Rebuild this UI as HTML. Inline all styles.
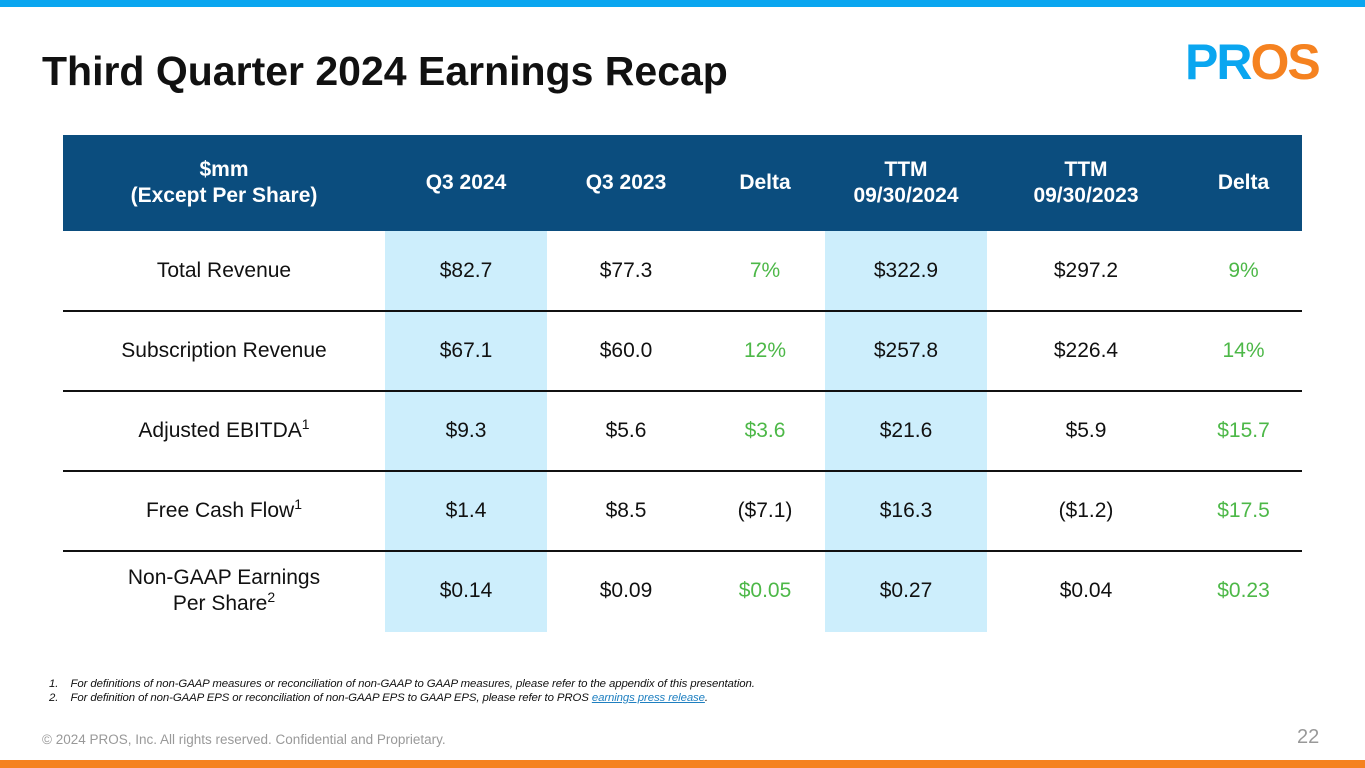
<!DOCTYPE html>
<html><head><meta charset="utf-8"><style>
*{margin:0;padding:0;box-sizing:border-box}
body{width:1365px;height:768px;position:relative;background:#fff;font-family:"Liberation Sans",sans-serif;overflow:hidden}
.abs{position:absolute}
.cell{position:absolute;display:flex;align-items:center;justify-content:center;text-align:center;font-size:21px;color:#111;line-height:26px}
.hd{color:#fff;font-weight:bold;font-size:21px}
.g{color:#4db848}
.line{position:absolute;left:63px;width:1239px;height:2px;background:#111}
sup{font-size:14px;vertical-align:8px;line-height:0}
</style></head><body>
<div class="abs" style="left:0;top:0;width:1365px;height:7px;background:#0aa6f0"></div>
<div class="abs" style="left:0;top:760px;width:1365px;height:8px;background:#f58220"></div>
<div class="abs" style="left:42px;top:48px;font-size:41px;font-weight:bold;color:#111;letter-spacing:0px">Third Quarter 2024 Earnings Recap</div>
<div class="abs" style="left:1185px;top:36px;font-size:50px;font-weight:900;letter-spacing:-2px;line-height:52px"><span style="color:#0aa6f0">PR</span><span style="color:#f58220">OS</span></div>
<div class="abs" style="left:63px;top:135px;width:1239px;height:96px;background:#0b4d7e"></div>
<div class="abs" style="left:385px;top:231px;width:162px;height:401px;background:#cdeefc"></div>
<div class="abs" style="left:825px;top:231px;width:162px;height:401px;background:#cdeefc"></div>
<div class="line" style="top:310px"></div>
<div class="line" style="top:390px"></div>
<div class="line" style="top:470px"></div>
<div class="line" style="top:550px"></div>
<div id="tbl"></div>
<div class="abs" style="left:49px;top:677px;font-size:11.4px;font-style:italic;color:#111;line-height:14px;letter-spacing:-0.1px">
<div>1.&nbsp;&nbsp;&nbsp;&nbsp;For definitions of non-GAAP measures or reconciliation of non-GAAP to GAAP measures, please refer to the appendix of this presentation.</div>
<div>2.&nbsp;&nbsp;&nbsp;&nbsp;For definition of non-GAAP EPS or reconciliation of non-GAAP EPS to GAAP EPS, please refer to PROS <span style="color:#1e7fc0;text-decoration:underline">earnings press release</span>.</div></div>
<div class="abs" style="left:42px;top:732px;font-size:13.5px;color:#999">© 2024 PROS, Inc. All rights reserved. Confidential and Proprietary.</div>
<div class="abs" style="left:1297px;top:726px;font-size:20px;color:#999">22</div>
<script>
const colX=[63,385,547,705,825,987,1185,1302];
const headers=["$mm<br>(Except Per Share)","Q3 2024","Q3 2023","Delta","TTM<br>09/30/2024","TTM<br>09/30/2023","Delta"];
const labels=["Total Revenue","Subscription Revenue","Adjusted EBITDA<sup>1</sup>","Free Cash Flow<sup>1</sup>","Non-GAAP Earnings<br>Per Share<sup>2</sup>"];
const rows=[["$82.7","$77.3","7%","$322.9","$297.2","9%"],["$67.1","$60.0","12%","$257.8","$226.4","14%"],["$9.3","$5.6","$3.6","$21.6","$5.9","$15.7"],["$1.4","$8.5","($7.1)","$16.3","($1.2)","$17.5"],["$0.14","$0.09","$0.05","$0.27","$0.04","$0.23"]];
const tbl=document.getElementById('tbl');
function mk(x,y,w,h,html,cls,name){const d=document.createElement('div');d.className='cell '+cls;
d.style.left=x+'px';d.style.top=y+'px';d.style.width=w+'px';d.style.height=h+'px';d.innerHTML='<span>'+html+'</span>';


tbl.appendChild(d);}
headers.forEach((h,i)=>mk(colX[i],135,colX[i+1]-colX[i],96,h,'hd','header-cell'));
rows.forEach((r,ri)=>{const y=231+ri*80;
mk(colX[0],y,colX[1]-colX[0],80,labels[ri],'','row-label');
r.forEach((v,ci)=>{const green=(ci===2||ci===5)&&!v.startsWith('(');
mk(colX[ci+1],y,colX[ci+2]-colX[ci+1],80,v,green?'g':'','value-cell');});});
</script>
</body></html>
